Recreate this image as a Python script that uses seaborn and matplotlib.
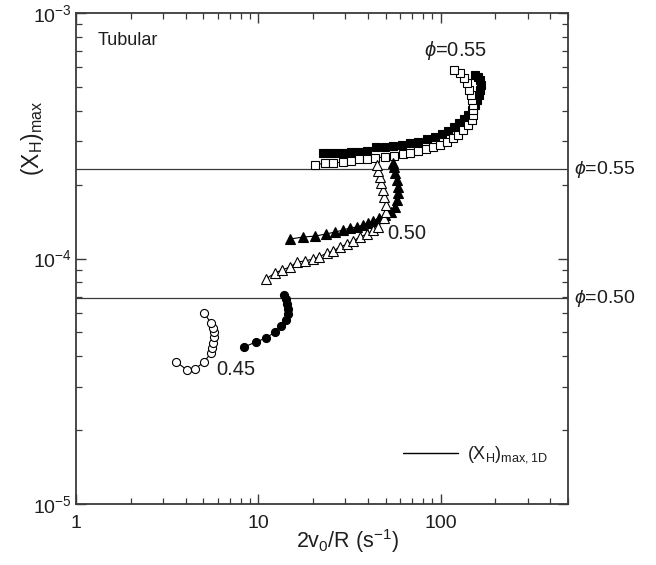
import numpy as np
import pandas as pd
import matplotlib
matplotlib.use("Agg")
import matplotlib.pyplot as plt
import matplotlib.ticker as mticker
import matplotlib.transforms as mtransforms
from matplotlib.lines import Line2D
import seaborn as sns

# ---------------- data ----------------
open_circ_x = [3.54, 4.06, 4.50, 5.04, 5.50, 5.57, 5.64, 5.71, 5.71, 5.64, 5.50, 5.04]
open_circ_y = [3.79e-5, 3.52e-5, 3.55e-5, 3.79e-5, 4.12e-5, 4.32e-5, 4.53e-5, 4.79e-5,
               5.02e-5, 5.21e-5, 5.46e-5, 6.00e-5]

fill_circ_x = [8.35, 9.71, 11.0, 12.35, 13.3, 14.2, 14.55, 14.55, 14.36, 14.2, 13.8]
fill_circ_y = [4.36e-5, 4.57e-5, 4.74e-5, 5.02e-5, 5.31e-5, 5.61e-5, 5.94e-5, 6.22e-5,
               6.53e-5, 6.84e-5, 7.10e-5]

open_tri_x = [11.0, 12.35, 13.5, 14.9, 16.3, 18.0, 19.95, 21.5, 23.8, 25.7, 28.1, 30.7, 33.1,
              36.1, 39.5, 42.6, 45.4, 48.9, 50.2, 50.2, 48.9, 48.3, 47.1, 46.5, 45.4, 44.8]
open_tri_y = [8.25e-5, 8.73e-5, 8.98e-5, 9.23e-5, 9.67e-5, 9.77e-5, 9.95e-5, 1.014e-4,
              1.053e-4, 1.073e-4, 1.114e-4, 1.146e-4, 1.178e-4, 1.223e-4, 1.258e-4, 1.306e-4,
              1.343e-4, 1.462e-4, 1.546e-4, 1.652e-4, 1.780e-4, 1.901e-4, 2.03e-4, 2.15e-4,
              2.27e-4, 2.40e-4]

fill_tri_x = [14.9, 17.6, 20.5, 23.5, 26.4, 29.2, 31.8, 34.8, 37.5, 40.0, 42.6, 45.9, 49.5,
              53.4, 56.2, 57.7, 58.4, 58.4, 57.7, 56.2, 55.5, 54.8]
fill_tri_y = [1.20e-4, 1.223e-4, 1.234e-4, 1.258e-4, 1.282e-4, 1.306e-4, 1.331e-4, 1.343e-4,
              1.369e-4, 1.395e-4, 1.421e-4, 1.462e-4, 1.504e-4, 1.546e-4, 1.62e-4, 1.73e-4,
              1.85e-4, 1.955e-4, 2.09e-4, 2.23e-4, 2.36e-4, 2.45e-4]

open_sq_x = [20.5, 23.2, 25.7, 29.2, 32.3, 35.7, 39.5, 43.7, 49.5, 55.5, 62.2, 67.9, 75.2, 83.2,
             90.8, 99.3, 108, 117, 125, 133, 141, 149, 151, 151, 151, 149, 147, 143, 140, 134,
             128, 118]
open_sq_y = [2.40e-4, 2.45e-4, 2.45e-4, 2.47e-4, 2.50e-4, 2.54e-4, 2.54e-4, 2.57e-4, 2.59e-4,
             2.62e-4, 2.67e-4, 2.69e-4, 2.74e-4, 2.79e-4, 2.85e-4, 2.90e-4, 2.98e-4, 3.10e-4,
             3.19e-4, 3.34e-4, 3.50e-4, 3.66e-4, 3.84e-4, 4.03e-4, 4.22e-4, 4.42e-4, 4.63e-4,
             4.86e-4, 5.19e-4, 5.43e-4, 5.69e-4, 5.86e-4]

fill_sq_x = [22.6, 24.7, 27.0, 29.5, 32.3, 35.7, 39.5, 44.2, 49.5, 54.8, 61.4, 67.9, 75.2, 84.2,
             93.1, 102, 110, 118, 126, 134, 141, 149, 154, 158, 162, 164, 167, 164, 160, 154]
fill_sq_y = [2.69e-4, 2.69e-4, 2.70e-4, 2.70e-4, 2.71e-4, 2.72e-4, 2.74e-4, 2.85e-4, 2.85e-4,
             2.87e-4, 2.90e-4, 2.95e-4, 2.98e-4, 3.07e-4, 3.13e-4, 3.21e-4, 3.31e-4, 3.43e-4,
             3.56e-4, 3.70e-4, 3.84e-4, 4.03e-4, 4.22e-4, 4.42e-4, 4.63e-4, 4.86e-4, 5.09e-4,
             5.33e-4, 5.48e-4, 5.59e-4]

# 1-D reference values (horizontal lines) and their labels
xh_1d_values = [2.315e-4, 6.90e-5]
xh_1d_labels = ["0.55", "0.50"]

# curve end labels
curve_labels = ["0.45", "0.50", "0.55"]

x_major = [1, 10, 100]
y_major = [1e-5, 1e-4, 1e-3]

# ---------------- styling ----------------
sns.set_style("ticks")
plt.rcParams["font.family"] = ["Liberation Sans", "DejaVu Sans"]
plt.rcParams["mathtext.fontset"] = "custom"
plt.rcParams["mathtext.rm"] = "Liberation Sans"
plt.rcParams["mathtext.it"] = "Liberation Sans:italic"
plt.rcParams["mathtext.bf"] = "Liberation Sans:bold"
plt.rcParams["axes.unicode_minus"] = False

TXT = "#1e1e1e"
AX = "#3a3a3a"

fig = plt.figure(figsize=(6.56, 5.65), dpi=100)
ax = fig.add_axes([76 / 656, 1 - 504 / 565, 492 / 656, 491 / 565])
ax.set_xscale("log")
ax.set_yscale("log")

series = [
    (fill_sq_x, fill_sq_y, "s", "k", 6.4),
    (open_sq_x, open_sq_y, "s", "white", 6.4),
    (fill_tri_x, fill_tri_y, "^", "k", 6.9),
    (open_tri_x, open_tri_y, "^", "white", 6.9),
    (fill_circ_x, fill_circ_y, "o", "k", 5.8),
    (open_circ_x, open_circ_y, "o", "white", 5.8),
]
for i, (xs, ys, mk, fc, ms) in enumerate(series):
    df = pd.DataFrame({"x": xs, "y": ys})
    sns.lineplot(data=df, x="x", y="y", sort=False, estimator=None, ax=ax,
                 color="k", lw=0.8, marker=mk, markersize=ms,
                 markerfacecolor=fc, markeredgecolor="k", markeredgewidth=0.8,
                 zorder=3 + i)

for v in xh_1d_values:
    ax.axhline(v, color=AX, lw=0.9, zorder=1)

ax.set_xlim(1, 500)
ax.set_ylim(1e-5, 1e-3)

# ticks
ax.xaxis.set_major_locator(mticker.FixedLocator(x_major))
ax.xaxis.set_major_formatter(mticker.FuncFormatter(lambda v, _: f"{v:g}"))
ax.xaxis.set_minor_locator(mticker.LogLocator(base=10, subs=np.arange(2, 10)))
ax.xaxis.set_minor_formatter(mticker.NullFormatter())
ax.yaxis.set_major_locator(mticker.FixedLocator(y_major))
ax.yaxis.set_major_formatter(mticker.FuncFormatter(
    lambda v, _: r"$\mathregular{10^{%d}}$" % int(round(np.log10(v)))))
ax.yaxis.set_minor_locator(mticker.LogLocator(base=10, subs=np.arange(2, 10)))
ax.yaxis.set_minor_formatter(mticker.NullFormatter())
ax.tick_params(which="both", direction="in", top=True, right=True,
               color=AX, labelcolor=TXT, labelsize=14)
ax.tick_params(which="major", length=7, width=1.0)
ax.tick_params(which="minor", length=4, width=0.9)
ax.tick_params(axis="y", pad=3)
ax.tick_params(axis="x", pad=8)
for s in ax.spines.values():
    s.set_color(AX)
    s.set_linewidth(1.3)

ax.set_xlabel(r"$\mathregular{2v_0/R\ (s^{-1})}$", fontsize=15.5, color=TXT)
ax.set_ylabel(r"$\mathregular{(X_H)_{max}}$", fontsize=16.5, color=TXT)
ax.xaxis.set_label_coords(0.551, -0.047)
ax.yaxis.set_label_coords(-0.06, 0.745)

# texts
ax.text(0.043, 0.945, "Tubular", transform=ax.transAxes, ha="left", va="center",
        fontsize=13, color=TXT)
ax.text(5.86, 3.52e-5, curve_labels[0], ha="left", va="center", fontsize=14.5, color=TXT)
ax.text(50.8, 1.27e-4, curve_labels[1], ha="left", va="center", fontsize=14.5, color=TXT)
ax.text(121, 7.05e-4, r"$\phi$=" + curve_labels[2], ha="center", va="center",
        fontsize=14.5, color=TXT)

trans = mtransforms.blended_transform_factory(ax.transAxes, ax.transData)
for v, lab in zip(xh_1d_values, xh_1d_labels):
    ax.text(1.012, v, r"$\phi$=" + lab, transform=trans, ha="left", va="center",
            fontsize=14, color=TXT, clip_on=False)

handle = Line2D([], [], color="k", lw=1.0)
leg = ax.legend([handle], [r"$\mathregular{(X_H)_{max,1D}}$"], loc="center left",
                bbox_to_anchor=(0.647, 0.1), frameon=False, handlelength=3.0,
                handletextpad=0.55, borderpad=0, fontsize=13)
for t in leg.get_texts():
    t.set_color(TXT)

fig.savefig("out.png", dpi=100)
